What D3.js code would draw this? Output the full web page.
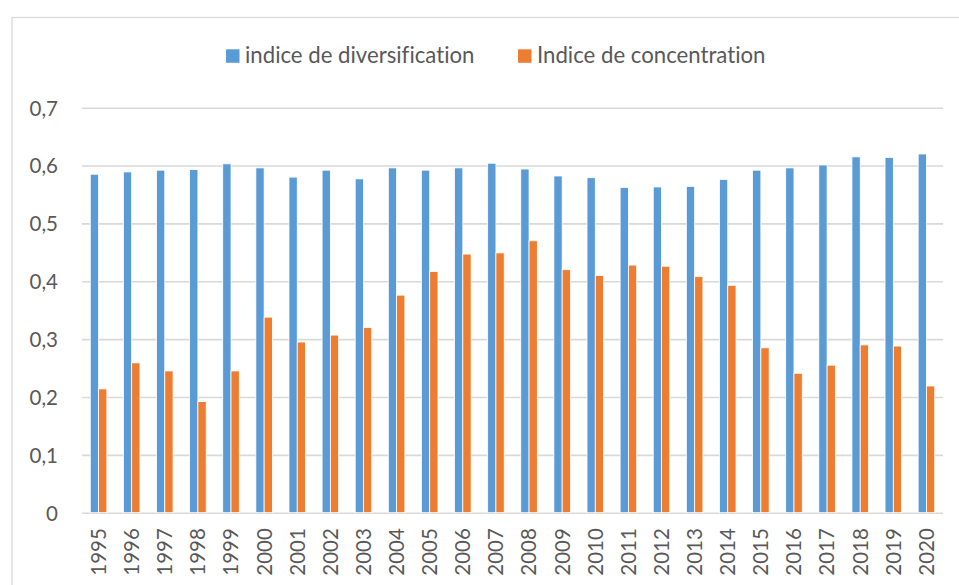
<!DOCTYPE html>
<html>
<head>
<meta charset="utf-8">
<script src="https://cdn.jsdelivr.net/npm/d3@7"></script>
<style>
  html, body { margin: 0; padding: 0; background: #fff; }
  svg { display: block; }
  text { font-family: Lato, "Open Sans", sans-serif; fill: #595959; font-variant-ligatures: none; }
</style>
</head>
<body>
<svg id="chart" width="959" height="585"></svg>
<script>
const years = ["1995","1996","1997","1998","1999","2000","2001","2002","2003","2004","2005","2006","2007","2008","2009","2010","2011","2012","2013","2014","2015","2016","2017","2018","2019","2020"];
const diversification = [0.585,0.589,0.592,0.593,0.603,0.596,0.580,0.592,0.577,0.596,0.592,0.596,0.604,0.594,0.582,0.579,0.562,0.563,0.564,0.576,0.592,0.596,0.601,0.615,0.614,0.620];
const concentration = [0.214,0.259,0.245,0.192,0.245,0.338,0.295,0.307,0.320,0.376,0.417,0.447,0.449,0.470,0.420,0.410,0.428,0.426,0.408,0.393,0.285,0.241,0.255,0.290,0.288,0.219];
const seriesNames = ["indice de diversification", "Indice de concentration"];
const seriesColors = ["#5b9bd5", "#ed7d31"];
const yTicks = [0, 0.1, 0.2, 0.3, 0.4, 0.5, 0.6, 0.7];
const yTickLabels = ["0", "0,1", "0,2", "0,3", "0,4", "0,5", "0,6", "0,7"];

const svg = d3.select("#chart");
const plotLeft = 82, plotRight = 943, plotTop = 107.7, plotBottom = 512.7;

// outer border
svg.append("rect").attr("x", 12).attr("y", 17.5).attr("width", 960).attr("height", 600)
  .attr("fill", "none").attr("stroke", "#d9d9d9").attr("stroke-width", 1.3);

const x = d3.scaleBand().domain(years).range([plotLeft, plotRight]).paddingInner(0.5).paddingOuter(0.25);
const x1 = d3.scaleBand().domain([0, 1]).range([0, x.bandwidth()]);
const y = d3.scaleLinear().domain([0, 0.7]).range([plotBottom, plotTop]);

// y axis with gridlines
const yAxis = svg.append("g").attr("transform", `translate(${plotLeft},0)`)
  .call(d3.axisLeft(y).tickValues(yTicks).tickSize(-(plotRight - plotLeft)).tickPadding(24)
    .tickFormat((d, i) => yTickLabels[i]));
yAxis.select(".domain").remove();
yAxis.selectAll(".tick line").attr("stroke", "#d9d9d9").attr("stroke-width", 1.6);
yAxis.selectAll(".tick text").style("font-size", "20.5px").attr("fill", "#595959").attr("dy", "0.36em");

// bars
const data = [diversification, concentration];
data.forEach((vals, s) => {
  svg.append("g").selectAll("rect").data(vals).join("rect")
    .attr("x", (d, i) => x(years[i]) + x1(s))
    .attr("y", d => y(d))
    .attr("width", x1.bandwidth())
    .attr("height", d => y(0) - y(d))
    .attr("fill", seriesColors[s])
    .attr("stroke", "#fff").attr("stroke-width", 0.8);
});

// x axis labels
const xAxis = svg.append("g").attr("transform", `translate(0,${plotBottom})`)
  .call(d3.axisBottom(x).tickSize(0).tickPadding(0));
xAxis.select(".domain").remove();
xAxis.selectAll(".tick text")
  .style("font-size", "20.5px").attr("fill", "#595959")
  .attr("text-anchor", "end")
  .attr("transform", "translate(0,15.5) rotate(-90)")
  .attr("x", 0).attr("y", 0).attr("dy", "0.36em");

// legend
const legendItems = [{x: 226, tx: 245}, {x: 518, tx: 537}];
legendItems.forEach((p, i) => {
  svg.append("rect").attr("x", p.x).attr("y", 49.3).attr("width", 13.5).attr("height", 13.5).attr("fill", seriesColors[i]);
  svg.append("text").attr("x", p.tx).attr("y", 62.5).style("font-size", "22.2px").text(seriesNames[i]);
});
</script>
</body>
</html>
